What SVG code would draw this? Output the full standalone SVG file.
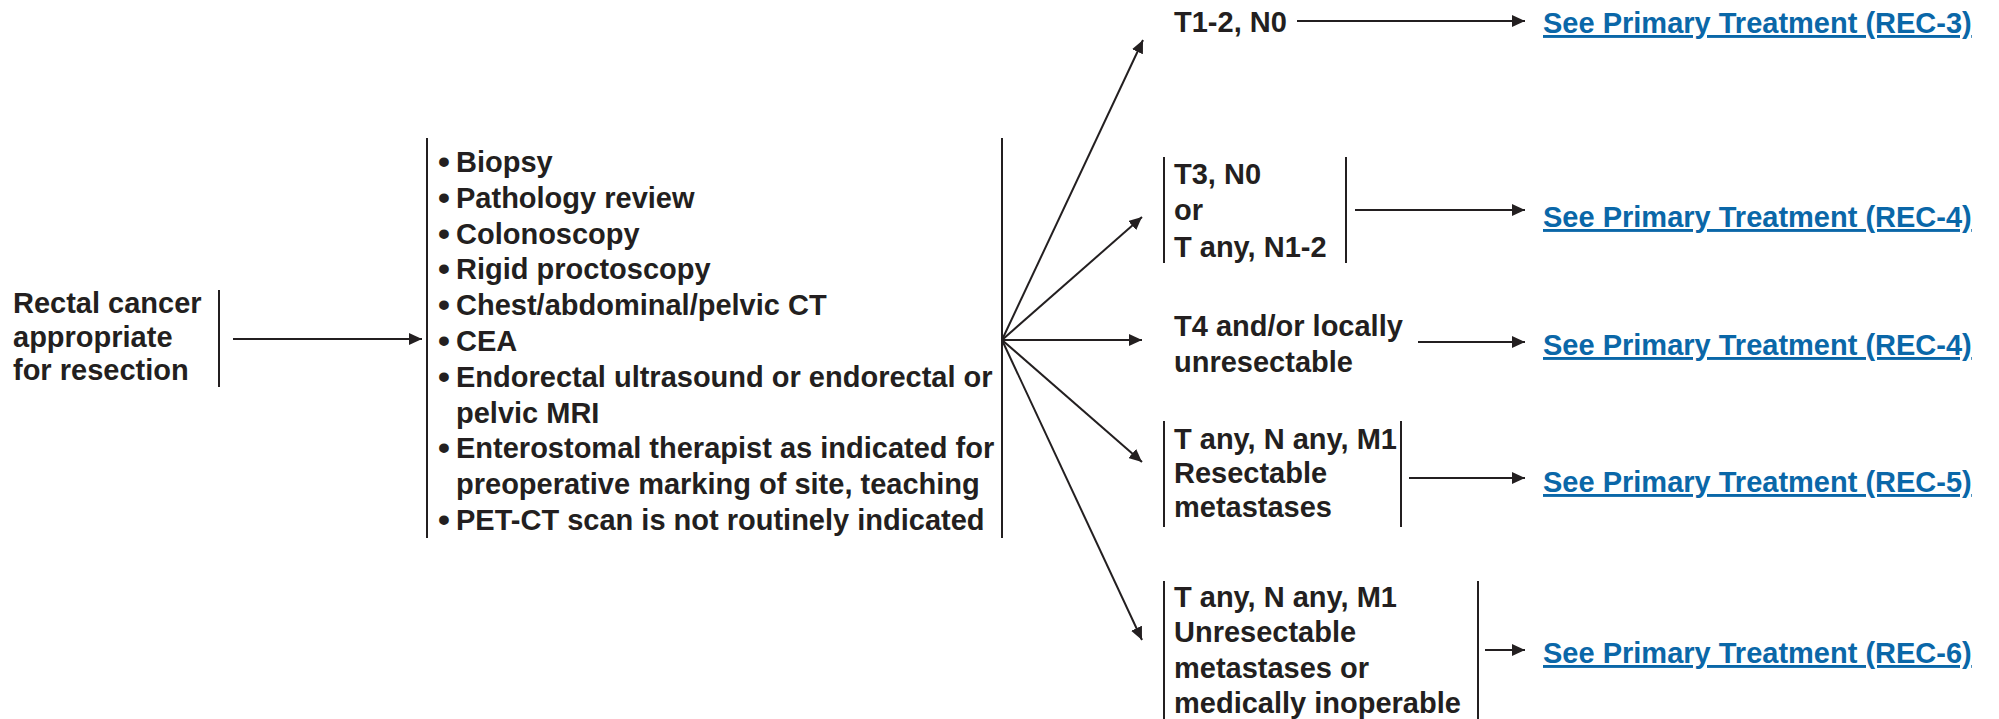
<svg xmlns="http://www.w3.org/2000/svg" width="1999" height="719" viewBox="0 0 1999 719">
<defs>
<style>
.t{font-family:"Liberation Sans",Arial,sans-serif;font-weight:bold;font-size:29px;fill:#231f20}
.b{font-family:"Liberation Sans",Arial,sans-serif;font-weight:bold;font-size:34px;fill:#231f20}
.lk{font-family:"Liberation Sans",Arial,sans-serif;font-weight:bold;font-size:29px;fill:#0a67a8;text-decoration:underline}
.bar{stroke:#231f20;stroke-width:2;fill:none}
.ar{stroke:#231f20;stroke-width:2;fill:none;marker-end:url(#ah)}
</style>
<marker id="ah" markerUnits="userSpaceOnUse" markerWidth="14" markerHeight="12" refX="13" refY="6" orient="auto">
<path d="M0,0 L13,6 L0,12 z" fill="#231f20"/>
</marker>
</defs>
<rect width="1999" height="719" fill="#ffffff"/>
<g id="start">
<text class="t" x="13" y="313">Rectal cancer</text>
<text class="t" x="13" y="346.5">appropriate</text>
<text class="t" x="13" y="380">for resection</text>
<line class="bar" x1="219" y1="290" x2="219" y2="387"/>
</g>
<g id="workup">
<line class="bar" x1="427" y1="138" x2="427" y2="538"/>
<line class="bar" x1="1002" y1="138" x2="1002" y2="538"/>
<g class="b" text-anchor="middle">
<text x="444" y="173">•</text>
<text x="444" y="209">•</text>
<text x="444" y="245">•</text>
<text x="444" y="280">•</text>
<text x="444" y="316">•</text>
<text x="444" y="352">•</text>
<text x="444" y="388">•</text>
<text x="444" y="459">•</text>
<text x="444" y="531">•</text>
</g>
<text class="t" x="456" y="172">Biopsy</text>
<text class="t" x="456" y="208">Pathology review</text>
<text class="t" x="456" y="244">Colonoscopy</text>
<text class="t" x="456" y="279">Rigid proctoscopy</text>
<text class="t" x="456" y="315">Chest/abdominal/pelvic CT</text>
<text class="t" x="456" y="351">CEA</text>
<text class="t" x="456" y="387">Endorectal ultrasound or endorectal or</text>
<text class="t" x="456" y="422.5">pelvic MRI</text>
<text class="t" x="456" y="458">Enterostomal therapist as indicated for</text>
<text class="t" x="456" y="494">preoperative marking of site, teaching</text>
<text class="t" x="456" y="530">PET-CT scan is not routinely indicated</text>
</g>
<g id="n1">
<text class="t" x="1174" y="32">T1-2, N0</text>
</g>
<g id="n2">
<line class="bar" x1="1164" y1="157" x2="1164" y2="263"/>
<line class="bar" x1="1346" y1="157" x2="1346" y2="263"/>
<text class="t" x="1174" y="184">T3, N0</text>
<text class="t" x="1174" y="220">or</text>
<text class="t" x="1174" y="256.5">T any, N1-2</text>
</g>
<g id="n3">
<text class="t" x="1174" y="336">T4 and/or locally</text>
<text class="t" x="1174" y="372">unresectable</text>
</g>
<g id="n4">
<line class="bar" x1="1164" y1="421" x2="1164" y2="527"/>
<line class="bar" x1="1401" y1="421" x2="1401" y2="527"/>
<text class="t" x="1174" y="449">T any, N any, M1</text>
<text class="t" x="1174" y="483">Resectable</text>
<text class="t" x="1174" y="517">metastases</text>
</g>
<g id="n5">
<line class="bar" x1="1164" y1="581" x2="1164" y2="719"/>
<line class="bar" x1="1478" y1="581" x2="1478" y2="719"/>
<text class="t" x="1174" y="607">T any, N any, M1</text>
<text class="t" x="1174" y="642">Unresectable</text>
<text class="t" x="1174" y="678">metastases or</text>
<text class="t" x="1174" y="713">medically inoperable</text>
</g>
<g id="links">
<text class="lk" x="1543" y="33">See Primary Treatment (REC-3)</text>
<text class="lk" x="1543" y="227">See Primary Treatment (REC-4)</text>
<text class="lk" x="1543" y="355">See Primary Treatment (REC-4)</text>
<text class="lk" x="1543" y="492">See Primary Treatment (REC-5)</text>
<text class="lk" x="1543" y="663">See Primary Treatment (REC-6)</text>
</g>
<g id="connectors">
<line class="ar" x1="233" y1="339" x2="422" y2="339"/>
<line class="ar" x1="1002" y1="340" x2="1143" y2="40"/>
<line class="ar" x1="1002" y1="340" x2="1142" y2="217"/>
<line class="ar" x1="1002" y1="340" x2="1142" y2="340"/>
<line class="ar" x1="1002" y1="340" x2="1142" y2="462"/>
<line class="ar" x1="1002" y1="340" x2="1142" y2="640"/>
<line class="ar" x1="1297" y1="21" x2="1525" y2="21"/>
<line class="ar" x1="1355" y1="210" x2="1525" y2="210"/>
<line class="ar" x1="1418" y1="342" x2="1525" y2="342"/>
<line class="ar" x1="1409" y1="478" x2="1525" y2="478"/>
<line class="ar" x1="1485" y1="650" x2="1525" y2="650"/>
</g>
</svg>
